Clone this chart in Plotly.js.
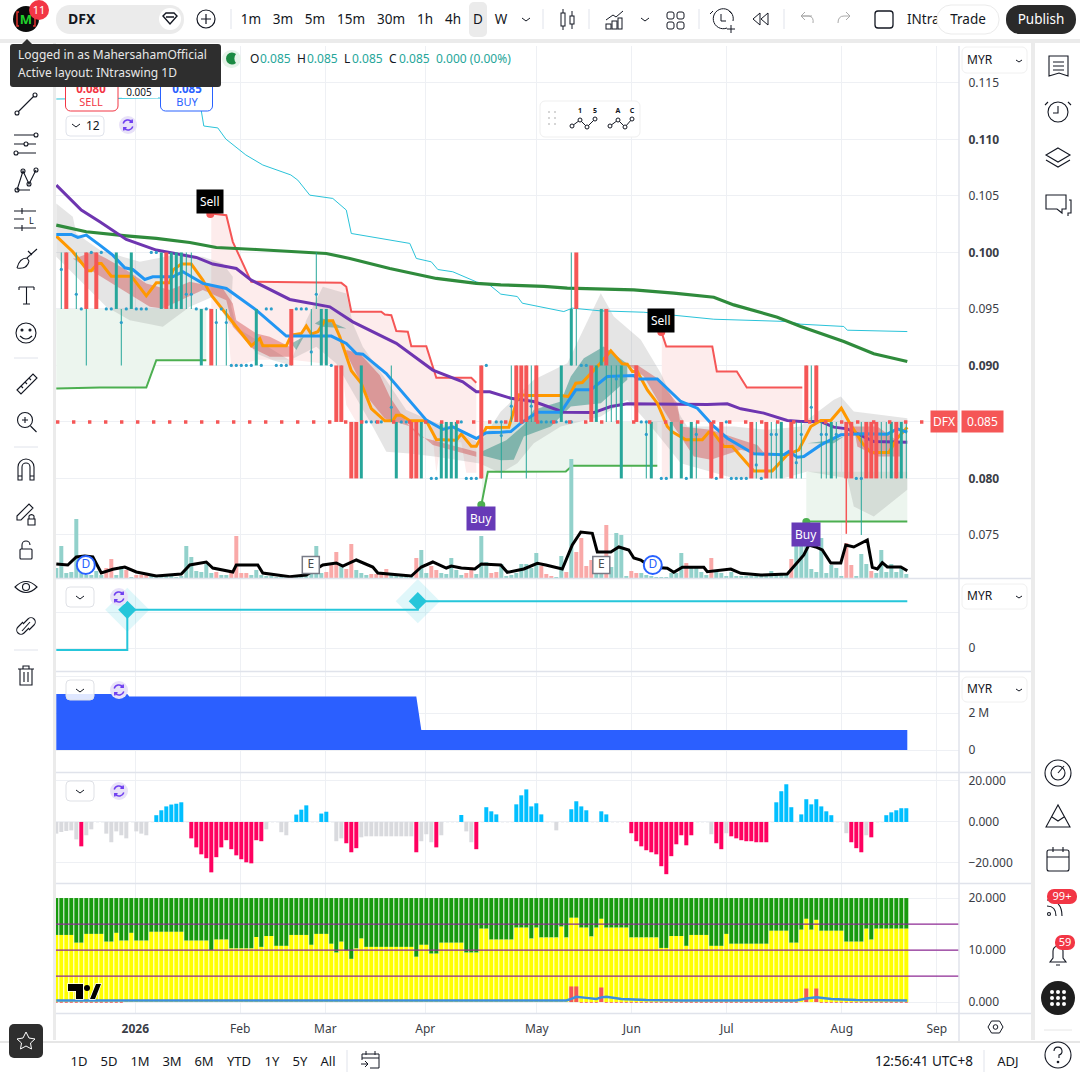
<!DOCTYPE html>
<html><head><meta charset="utf-8">
<script src="https://cdn.plot.ly/plotly-3.0.1.min.js"></script>
<style>html,body{margin:0;padding:0;background:#fff;width:1080px;height:1080px;overflow:hidden}
#c{position:absolute;left:0;top:0;width:1080px;height:1080px}
#ui{position:absolute;left:0;top:0;pointer-events:none;font-family:"Noto Sans",sans-serif}
#ui text{font-family:"Noto Sans",sans-serif}</style></head><body>
<div id="c"></div>
<svg id="ui" width="1080" height="1080" viewBox="0 0 1080 1080">
<defs><g id="rf"><circle r="9" fill="#e8e2f8"/><path d="M-4.800-1.500a5 5 0 0 1 8.600-1.800M4.800 1.500a5 5 0 0 1-8.600 1.800M4.200-5.500v2.800h-2.800M-4.200 5.500v-2.800h2.800" fill="none" stroke="#6f3ff0" stroke-width="1.500"/></g></defs>
<!-- frame -->
<rect x="0" y="0" width="1080" height="39" fill="#fff"/>
<rect x="0" y="39" width="1080" height="4" fill="#ebebeb"/>
<rect x="0" y="43" width="53" height="997" fill="#fff"/>
<rect x="53" y="43" width="3" height="997" fill="#ebebeb"/>
<rect x="1031" y="43" width="4" height="997" fill="#ebebeb"/>
<rect x="1035" y="43" width="45" height="997" fill="#fff"/>
<rect x="0" y="1041" width="1080" height="2" fill="#e6e6e6"/>
<rect x="0" y="1043" width="1080" height="37" fill="#fff"/>
<!-- top toolbar -->
<circle cx="26" cy="19" r="13" fill="#0b0b0b"/><text x="26" y="24" font-size="13" font-weight="700" fill="#21d12b" text-anchor="middle">M</text>
<path d="M19 12h-2v14h2M33 12h2v14h-2" stroke="#e3342f" stroke-width="1.500" fill="none"/>
<circle cx="39" cy="10" r="10" fill="#f23645"/><text x="39" y="14" font-size="11" fill="#fff" text-anchor="middle">11</text>
<rect x="56" y="5" width="128" height="29" rx="14" fill="#ebebeb"/>
<text x="68" y="24" font-size="14" font-weight="700" fill="#131722">DFX</text>
<circle cx="170" cy="19" r="11" fill="#fff"/><path d="M163 16l3-3h8l3 3-7 8zM166 17h8" stroke="#131722" stroke-width="1.400" fill="none"/>
<circle cx="206" cy="19" r="9" stroke="#131722" stroke-width="1.200" fill="none"/><path d="M201 19h10M206 14v10" stroke="#131722" stroke-width="1.200"/>
<path d="M231 9v20M543 9v20M589 9v20M699 9v20M784 9v20" stroke="#e0e3eb"/>
<rect x="469" y="2" width="18" height="35" rx="5" fill="#ebebeb"/>
<g font-size="13.500" fill="#131722" text-anchor="middle"><text x="251" y="24">1m</text><text x="283" y="24">3m</text><text x="315" y="24">5m</text><text x="351" y="24">15m</text><text x="391" y="24">30m</text><text x="425" y="24">1h</text><text x="453" y="24">4h</text><text x="478" y="24">D</text><text x="501" y="24">W</text></g>
<path d="M522 18l4 3 4-3M641 18l4 3 4-3" stroke="#131722" fill="none"/>
<g stroke="#131722" fill="none"><rect x="561" y="13" width="4" height="13"/><path d="M563 9v4M563 26v4"/><rect x="570" y="16" width="4" height="8"/><path d="M572 11v5M572 24v5"/></g>
<g stroke="#131722" fill="none"><path d="M606 20l7-5 3 2 7-6"/><rect x="606" y="24" width="5" height="5"/><rect x="612" y="21" width="5" height="8"/><rect x="618" y="18" width="4" height="11"/></g>
<g stroke="#131722" fill="none"><rect x="667" y="12" width="7" height="7" rx="2"/><rect x="677" y="12" width="7" height="7" rx="2"/><rect x="667" y="22" width="7" height="7" rx="2"/><rect x="677" y="22" width="7" height="7" rx="2"/></g>
<g stroke="#131722" fill="none"><path d="M727 28a10 10 0 1 1 6-7M721 14v7h5M713 11l-3 3M729 11l3 3M727 29h8M731 25v8"/></g>
<path d="M753 19l7-6v12zM761 19l7-6v12z" stroke="#131722" fill="none"/>
<path d="M812 16h-11l4-4M801 16l4 4M801 16h8q5 1 4 7M838 23q0-7 6-7h6l-4-4M850 16l-4 4" stroke="#aaa" fill="none"/>
<rect x="875" y="11" width="18" height="17" rx="3" stroke="#131722" stroke-width="1.300" fill="#fff"/>
<text x="907" y="24" font-size="13.500" fill="#131722">INtra</text>
<rect x="937" y="5" width="62" height="29" rx="14" fill="#fff" stroke="#ebebeb"/><text x="968" y="24" font-size="13.500" fill="#131722" text-anchor="middle">Trade</text>
<rect x="1006" y="5" width="70" height="29" rx="14" fill="#2a2a2a"/><text x="1041" y="24" font-size="13.500" fill="#fff" text-anchor="middle">Publish</text>
<!-- legend -->
<rect x="222" y="50" width="19" height="18" rx="9" fill="#e6f3e9"/><path d="M236 54a6 6 0 1 0 0 9 7 7 0 0 1 0-9z" fill="#1b8a42"/>
<g font-size="12"><text x="250" y="63" fill="#131722">O</text><text x="260" y="63" fill="#26a69a">0.085</text><text x="297" y="63" fill="#131722">H</text><text x="307" y="63" fill="#26a69a">0.085</text><text x="344" y="63" fill="#131722">L</text><text x="352" y="63" fill="#26a69a">0.085</text><text x="389" y="63" fill="#131722">C</text><text x="399" y="63" fill="#26a69a">0.085</text><text x="436" y="63" fill="#26a69a">0.000 (0.00%)</text></g>
<!-- sell/buy -->
<rect x="65.500" y="78" width="52.500" height="33" rx="5" fill="#fff" stroke="#f23645"/><text x="91" y="93" font-size="11.500" font-weight="700" fill="#f23645" text-anchor="middle">0.080</text><text x="91" y="106" font-size="11" fill="#f23645" text-anchor="middle">SELL</text>
<rect x="122" y="87" width="36" height="11" fill="#fff"/><text x="139" y="96" font-size="10" fill="#131722" text-anchor="middle">0.005</text>
<rect x="160.500" y="78" width="52" height="33" rx="5" fill="#fff" stroke="#2962ff"/><text x="187" y="93" font-size="11.500" font-weight="700" fill="#2962ff" text-anchor="middle">0.085</text><text x="187" y="106" font-size="11" fill="#2962ff" text-anchor="middle">BUY</text>
<rect x="66" y="116" width="38" height="20" rx="4" fill="#fff" stroke="#e0e3eb"/><path d="M72 124l4 3 4-3" stroke="#131722" fill="none"/><text x="86" y="130" font-size="12" fill="#131722">12</text>
<!-- tooltip -->
<path d="M22 44l5-5 5 5z" fill="#2e2e2e"/>
<rect x="10" y="44" width="211" height="43" rx="3" fill="#2e2e2e"/>
<text x="18" y="59" font-size="12" fill="#e8e8e8">Logged in as MahersahamOfficial</text><text x="18" y="77" font-size="12" fill="#e8e8e8">Active layout: INtraswing 1D</text>
<!-- wave panel -->
<rect x="540" y="101" width="100" height="36" rx="5" fill="#fff" stroke="#efefef"/>
<g fill="#c8c8c8"><circle cx="549" cy="112" r="1"/><circle cx="555" cy="112" r="1"/><circle cx="549" cy="118" r="1"/><circle cx="555" cy="118" r="1"/><circle cx="549" cy="124" r="1"/><circle cx="555" cy="124" r="1"/></g>
<g font-size="7" font-weight="700" fill="#131722" text-anchor="middle"><text x="580" y="113">1</text><text x="595" y="113">5</text><text x="618" y="113">A</text><text x="632" y="113">C</text></g>
<path d="M572 126l8-6 7 7 8-8M610 126l8-6 7 7 7-8" stroke="#131722" fill="none"/>
<g fill="#fff" stroke="#131722"><circle cx="572" cy="126" r="2"/><circle cx="580" cy="120" r="2"/><circle cx="587" cy="127" r="2"/><circle cx="595" cy="119" r="2"/><circle cx="610" cy="126" r="2"/><circle cx="618" cy="120" r="2"/><circle cx="625" cy="127" r="2"/><circle cx="632" cy="119" r="2"/></g>
<!-- refresh icons -->
<use href="#rf" x="128" y="125"/><use href="#rf" x="119" y="597"/><use href="#rf" x="119" y="690"/><use href="#rf" x="119" y="791"/>
<!-- collapse buttons -->
<g fill="#fff" stroke="#dfe1e6"><rect x="66" y="587" width="28" height="20" rx="4"/><rect x="66" y="680" width="28" height="20" rx="4" fill-opacity=".85"/><rect x="66" y="781" width="28" height="20" rx="4"/></g>
<path d="M76 596l4 3 4-3M76 689l4 3 4-3M76 790l4 3 4-3" stroke="#131722" fill="none"/>
<!-- MYR selectors -->
<g fill="#fff" stroke="#f0f0f0"><rect x="962" y="47" width="65" height="26" rx="5"/><rect x="962" y="584" width="65" height="25" rx="5"/><rect x="962" y="677" width="65" height="25" rx="5"/></g>
<g font-size="12" fill="#131722"><text x="967" y="64">MYR</text><text x="967" y="600">MYR</text><text x="967" y="693">MYR</text></g>
<path d="M1016 60l3 2 3-2M1016 596l3 2 3-2M1016 689l3 2 3-2" stroke="#131722" fill="none"/>
<!-- TV logo -->
<g><path d="M68 984h15v15h-7v-8h-8zM90 999l6-15h5l-6 15z" fill="#000" stroke="#fff" stroke-width="1.500" paint-order="stroke"/><circle cx="87" cy="988" r="3" fill="#000"/></g>
<!-- left toolbar -->
<g fill="none" stroke="#131722" stroke-width="1.100">
<path d="M18 112l16-16"/><circle cx="17" cy="113" r="2"/><circle cx="35" cy="95" r="2"/>
<path d="M14 135h22M14 144h22M14 153h22"/><circle cx="36" cy="135" r="2" fill="#fff"/><circle cx="26" cy="144" r="2" fill="#fff"/><circle cx="16" cy="153" r="2" fill="#fff"/>
<path d="M17 190l6-19 6 13 7-14M17 190h13"/><circle cx="17" cy="190" r="2"/><circle cx="23" cy="171" r="2"/><circle cx="29" cy="184" r="2"/><circle cx="36" cy="170" r="2"/>
<path d="M14 211h22M14 219h10M14 228h22M22 208v6M22 225v6"/><text x="29" y="224" font-size="9" stroke="none" fill="#131722">L</text>
<path d="M17 268c2-8 6-10 10-10l10-9M17 268c6 1 11-1 12-7l-2-3M28 251l4 4"/>
<path d="M19 287h15M26.500 287v17M23 304h7M19 287v3M34 287v3"/>
<circle cx="26" cy="333" r="10"/><circle cx="22" cy="330" r="1" fill="#131722"/><circle cx="30" cy="330" r="1" fill="#131722"/><path d="M20 336q6 6 12 0"/>
<path d="M17 390l16-16 4 4-16 16zM21 386l2 2M25 382l2 2M29 378l2 2"/>
<circle cx="25" cy="420" r="7.500"/><path d="M30.500 426l6 6M22 420h6M25 417v6"/>
<path d="M18 473v-6a8 8 0 0 1 16 0v6v7h-4v-7v-6a4 4 0 0 0-8 0v6v7h-4zM18 476h4M30 476h4"/>
<path d="M17 516l12-12 4 4-12 12h-4zM28 519h7v6h-7zM29 519v-3a3 3 0 0 1 5 0v3"/>
<rect x="20" y="549" width="12" height="10" rx="1"/><path d="M22 549v-4a4 4 0 0 1 8 0"/>
<path d="M15 587q11-11 22 0q-11 11-22 0z"/><circle cx="26" cy="587" r="3.500"/>
<path d="M23 622l-5 5a4 4 0 0 0 6 6l5-5M29 630l5-5a4 4 0 0 0-6-6l-5 5M22 631l8-9"/>
<path d="M18 669h16M23 669v-3h6v3M20 669v16h12v-16M24 672v10M28 672v10"/>
</g>
<path d="M14 358h24M14 447h24M14 650h24" stroke="#e0e3eb"/>
<rect x="9" y="1024" width="34" height="34" rx="5" fill="#2e2e2e"/><path d="M26 1032l3 6 6 1-4.500 4 1 6-5.500-3-5.500 3 1-6-4.500-4 6-1z" fill="none" stroke="#fff"/>
<!-- right toolbar -->
<g fill="none" stroke="#131722" stroke-width="1.100">
<path d="M1049 56h19v20l-9-3-10 3zM1053 62h11M1053 66h11M1053 70h11"/>
<circle cx="1058" cy="112" r="10"/><path d="M1058 106v7h-5M1048 102l-3 3M1068 102l3 3"/>
<path d="M1058 148l12 7-12 7-12-7zM1046 160l12 7 12-7"/>
<path d="M1046 195h20v14h-4v4l-5-4h-11zM1069 200h2v13h-3v3"/>
<circle cx="1058" cy="773" r="13"/><circle cx="1058" cy="773" r="7"/><path d="M1058 773l6-7"/>
<path d="M1046 827l12-22 12 22zM1052 817l6 4 6-4"/>
<rect x="1047" y="850" width="22" height="21" rx="2"/><path d="M1047 857h22M1053 847v5M1063 847v5"/>
<path d="M1047 900q15 0 15 16M1047 906q9 0 9 10"/><circle cx="1049" cy="914" r="1.500"/>
<path d="M1050 962h16l-3-4v-7a5 5 0 0 0-10 0v7zM1056 965h4"/>
<circle cx="1058" cy="1055" r="13"/><path d="M1054 1051a4 4 0 1 1 5 4v3"/><circle cx="1058" cy="1062" r=".8" fill="#131722"/>
</g>
<path d="M1044 1030h28" stroke="#e6e6e6"/>
<rect x="1047" y="889" width="30" height="15" rx="7" fill="#f23645"/><text x="1062" y="900" font-size="11" fill="#fff" text-anchor="middle">99+</text>
<rect x="1055" y="935" width="20" height="15" rx="7" fill="#f23645"/><text x="1065" y="946" font-size="11" fill="#fff" text-anchor="middle">59</text>
<circle cx="1058" cy="998" r="17" fill="#1e1e1e"/><g fill="#fff"><circle cx="1052" cy="992" r="2"/><circle cx="1058" cy="992" r="2"/><circle cx="1064" cy="992" r="2"/><circle cx="1052" cy="998" r="2"/><circle cx="1058" cy="998" r="2"/><circle cx="1064" cy="998" r="2"/><circle cx="1052" cy="1004" r="2"/><circle cx="1058" cy="1004" r="2"/><circle cx="1064" cy="1004" r="2"/></g>
<!-- x axis settings -->
<path d="M988 1027l3.500-6h8l3.500 6-3.500 6h-8z" fill="none" stroke="#131722"/><circle cx="995.500" cy="1027" r="2.300" fill="none" stroke="#131722"/>
<!-- bottom -->
<g font-size="13" fill="#131722" text-anchor="middle"><text x="79" y="1066">1D</text><text x="109" y="1066">5D</text><text x="140" y="1066">1M</text><text x="172" y="1066">3M</text><text x="204" y="1066">6M</text><text x="239" y="1066">YTD</text><text x="272" y="1066">1Y</text><text x="300" y="1066">5Y</text><text x="328" y="1066">All</text><text x="924" y="1066" font-size="13.500">12:56:41 UTC+8</text><text x="1008" y="1066">ADJ</text></g>
<path d="M347 1050v22M984 1050v22" stroke="#e0e3eb"/>
<g fill="none" stroke="#131722"><path d="M362 1060v-6h17v14h-9M362 1058h17M366 1051v4M375 1051v4M361 1064h7M365 1061l3 3-3 3"/></g>
</svg>
<script>
const kBars=[0,1,2,3,4,5,6,7,8,9,10,11,12,13,14,15,16,17,18,19,20,21,22,23,24,25,26,27,28,29,30,31,32,33,34,35,36,37,38,39,40,41,42,43,44,45,46,47,48,49,50,51,52,53,54,55,56,57,58,59,60,61,62,63,64,65,66,67,68,69,70,71,72,73,74,75,76,77,78,79,80,81,82,83,84,85,86,87,88,89,90,91,92,93,94,95,96,97,98,99,100,101,102,103,104,105,106,107,108,109,110,111,112,113,114,115,116,117,118,119,120,121,122,123,124,125,126,127,128,129,130,131,132,133,134,135,136,137,138,139,140,141,142,143,144,145,146,147,148,149,150,151,152,153,154,155,156,157,158,159,160,161,162,163,164,165,166,167,168,169,170];
const xTickVals=[15.8,36.8,53.8,73.8,96.1,115.1,134.1,157.1,176.1];
const xTickText=['<b>2026</b>','Feb','Mar','Apr','May','Jun','Jul','Aug','Sep'];
const volume=[10,32,5,6,59,6,3,3,7,3,10,19,3,12,8,1,3,3,4,2,1,1,2,2,1,2,32,21,7,6,14,5,6,3,3,6,42,5,5,3,8,3,2,2,1,1,1,1,2,2,6,10,32,5,6,13,26,14,9,34,8,5,3,4,4,5,9,3,2,2,2,3,20,28,5,12,8,5,4,20,8,3,5,11,4,42,16,5,6,14,2,3,5,14,14,10,25,12,4,2,1,22,6,119,26,40,12,18,21,6,53,11,45,43,2,7,5,5,3,2,1,1,1,5,5,25,15,10,10,6,3,20,6,5,2,6,2,2,2,2,2,2,2,7,5,4,5,19,36,33,40,9,6,40,5,13,10,2,35,13,2,24,14,7,5,28,6,14,6,11,4];
const volumeRedBars=[10,11,14,16,17,18,32,35,36,37,38,54,55,56,58,59,63,64,65,66,72,75,76,82,83,87,88,97,98,99,102,104,105,106,107,110,115,116,126,131,147,158,159,163];
const volMaK=[0,2.3,4,5.7,7.3,9,11.3,13.7,16,20,25,26.7,30,31.3,35.3,36,40.3,41.3,46.7,50,53.3,56,57.3,60,63.3,64.3,71,73,75.3,78,79,81,83.7,85,88.9,90.2,93.5,96.2,97.9,101.2,103.2,104.9,107.2,108.2,110.9,112.5,114.5,115.5,116.9,118.9,122.2,123.5,125.2,129.5,130.2,134.9,136.9,140.9,146.2,149.5,150.5,151.9,153.2,154.9,156.9,157.9,159.5,162.2,163.2,164.2,165.2,166.2,168.9,170.2];
const volMaV=[14,13,21,22,21,5,8.7,11,6,2,4,13,16,10,6,13,13,5,1.3,3,13,15,12,18,11,5,2,11,16,10,12,10,9,14,13,5.7,9,14.7,13,9,33,46,44.7,26,26,31,28,20,18,11,9.7,5.7,10.7,10.7,6.3,9,4.7,3,4,23,33,31,28,15,15,33,31,38,10.7,9,15.3,11,11,7.3];
// thick candle bodies
const tealK=[12,15,21,23,24,25,29,40,53,54,61,68,73,77,78,79,80,101,103,108,109,113,119,123,125,127,145,155,167,169];
const tealLo=[.095,.095,.095,.095,.095,.095,.09,.09,.09,.09,.08,.08,.08,.08,.08,.08,.08,.085,.09,.085,.09,.08,.08,.08,.08,.08,.08,.08,.08,.08];
const tealHi=[.1,.1,.1,.1,.1,.1,.095,.095,.095,.095,.09,.085,.085,.085,.085,.085,.085,.09,.095,.09,.095,.09,.085,.085,.085,.085,.085,.085,.085,.085];
const redK=[2,6,8,22,31,47,56,57,59,60,71,72,85,92,93,94,96,104,107,110,116,131,133,139,142,147,150,152,158,159,162,163,164,168];
const redLo=[.095,.095,.095,.095,.09,.09,.085,.085,.08,.08,.08,.08,.08,.085,.085,.085,.085,.095,.085,.09,.085,.08,.08,.08,.08,.08,.085,.085,.08,.08,.08,.08,.08,.08];
const redHi=[.1,.1,.1,.1,.095,.095,.09,.09,.085,.085,.085,.085,.09,.09,.09,.09,.09,.1,.09,.095,.09,.085,.085,.085,.085,.085,.09,.09,.085,.085,.085,.085,.085,.085];
// thin wicks
const wickK=[1,2,4,6,8,13,26,27,32,34,47,51,52,57,67,71,85,89,91,92,94,95,96,103,104,110,111,112,118,128,131,140,143,144,148,149,150,151,152,153,154,156,161,165,166,168,170];
const wickLo=[.095,.095,.095,.09,.095,.09,.095,.095,.09,.09,.09,.09,.095,.085,.085,.08,.08,.08,.085,.085,.08,.085,.085,.09,.09,.085,.085,.085,.08,.08,.08,.08,.08,.08,.08,.08,.085,.085,.085,.08,.08,.08,.075,.08,.08,.08,.08];
const wickHi=[.1,.1,.1,.1,.1,.095,.1,.1,.095,.095,.095,.095,.1,.09,.09,.085,.09,.085,.09,.09,.09,.09,.09,.1,.095,.09,.09,.09,.085,.085,.085,.085,.085,.085,.085,.085,.09,.09,.09,.085,.085,.085,.085,.085,.085,.085,.085];
const redWickK=[158];const redWickLo=[.0751];const redWickHi=[.085];
const dotK=[1,4,13,26,27,32,34,52,51,67,89,91,95,112,118,128,140,143,144,148,149,151,153,154,156,7,9,19,20,5,10,11,14,16,17,18,28,30,33,42,43,48,49,50,35,36,37,38,39,41,44,45,46,55,62,63,64,65,69,70,74,81,86,88,89,75,76,82,83,84,105,106,97,98,99,100,102,103,117,118,134,121,122,126,132,135,136,137,138,141,160,161];
const dotP=[.0985,.0963,.0938,.0963,.0963,.0938,.0938,.0963,.0912,.0863,.0838,.0864,.0864,.0888,.0839,.0839,.0812,.0839,.0839,.0814,.0839,.0863,.0839,.0839,.0839,.1,.1,.1,.1,.095,.095,.095,.095,.095,.095,.095,.095,.095,.095,.095,.095,.095,.095,.095,.09,.09,.09,.09,.09,.09,.09,.09,.09,.09,.085,.085,.085,.085,.085,.085,.085,.085,.09,.085,.085,.08,.08,.08,.08,.08,.09,.09,.085,.085,.085,.085,.085,.085,.085,.085,.085,.08,.08,.08,.08,.08,.08,.08,.08,.08,.08,.08];
// lines
const ma200K=[0,6,14,20,26.7,32,40,54,58.7,66.7,76,84,88.9,97.5,102.2,115.5,123.5,131.5,135.5,144.2,148.9,157.5,163.5,170.2];
const ma200P=[.10242,.10183,.10147,.10124,.10088,.10044,.10026,.09991,.09947,.09858,.0977,.09726,.09713,.09699,.09684,.09669,.0964,.09604,.09536,.09427,.09345,.09212,.09103,.09035];
const cyanK=[0,20,28.5,28.9,29.5,32.3,33.9,37.9,41.3,46.9,48.3,50.7,55.3,58,59,67.3,70.7,72,75,76.3,79.3,84,86.7,88.9,92.2,93.2,97.5,101.5,103.2,108.9,117.5,126.9,131.5,146.2,148.9,157.5,158.2,170.2];
const cyanP=[.11358,.11367,.11358,.11279,.11119,.11102,.11004,.10863,.10774,.10686,.1064,.10507,.10478,.10375,.10168,.10109,.1008,.09947,.09917,.09849,.09829,.0974,.09711,.09631,.0961,.09551,.09516,.09477,.09507,.09483,.09471,.09427,.09409,.09389,.09365,.09345,.09312,.093];
const purpleK=[0,5,8.7,14,20,28,31.3,36,39,46.7,54.7,59.3,68,75.3,81.3,84,86.7,90.9,95.5,101.5,107.5,110.9,114.2,130.2,134.2,136.9,141.5,146.2,148.9,152.9,155.5,158.2,163.5,170.2];
const purpleP=[.10596,.10375,.10271,.10115,.10021,.09956,.09897,.09858,.09755,.09584,.09519,.09386,.09195,.08959,.08855,.08767,.08767,.0871,.08681,.08586,.08583,.08637,.0866,.08654,.0866,.08616,.08578,.08513,.08504,.08504,.08454,.08439,.08327,.08321];
const blueK=[0,3,4.3,6,8.7,11.3,13.7,15.3,17.7,19.3,23.3,25.3,29.3,34,40,42.7,46,55,58,60,61.3,66,70,74,77.3,79.3,84,86,88.9,90.9,92.9,96.2,100.9,103.9,106.9,110.2,115.5,116.2,120.2,124.9,128.2,131.5,134.2,139.5,145.5,146.5,148.2,149.5,152.9,156.9,161.5,166.2,168.2,170.2];
const blueP=[.10159,.10159,.10133,.10153,.10065,.09976,.09864,.09849,.09761,.09785,.09785,.09829,.09726,.09681,.0949,.09386,.0926,.0926,.09195,.09106,.091,.08929,.08723,.08516,.08434,.08457,.08354,.08404,.08409,.08415,.08489,.08586,.08586,.08784,.08784,.08902,.08911,.08881,.08881,.08681,.08622,.0846,.08356,.08218,.08209,.08238,.08188,.08194,.08297,.08386,.08395,.08392,.08439,.08409];
const orangeK=[0,3.3,6.3,7,8.3,9,11,15,18,20,22.7,23.3,25,27,29.3,31,39,40.7,41.3,46,47,49,50,51,52.3,53.7,55.3,56.7,59,61,63,65.7,67.3,68,69,70.7,74,76,80,81,83,84,86,90.5,92.5,94.5,100.9,102.5,103.9,105.2,108.5,110.9,113.2,114.2,115.2,116.2,118.2,120.2,122.2,123.2,125.9,129.2,130.5,131.5,133.5,135.2,139.5,143.2,146.2,148.5,150.9,152.9,154.9,157,158.5,161.2,162.9,166.5,168.2,170.2];
const orangeP=[.10144,.10006,.09838,.09838,.09903,.09903,.0979,.0979,.09616,.09731,.09731,.09844,.09897,.09897,.09755,.09622,.09174,.09239,.09174,.09174,.09268,.09283,.09348,.09277,.09298,.09395,.09395,.09254,.08953,.08841,.08619,.0851,.0851,.0856,.0856,.0851,.0851,.08345,.08339,.08392,.08286,.08286,.08451,.08454,.0874,.08734,.08734,.08725,.08843,.08849,.09005,.09129,.09014,.09011,.08946,.08946,.08784,.08666,.0846,.08412,.08342,.08342,.08409,.084,.08283,.08283,.08067,.08067,.08209,.08253,.0846,.08513,.08513,.08622,.08504,.08312,.08229,.08229,.08356,.08454];
// supertrend
const stRed1K=[31,34,35.3,39,57,58,59,65,65.7,67,68,70.3,71,74,76,83,84];
const stRed1P=[.10345,.1033,.10094,.0974,.09731,.09696,.09475,.09475,.09451,.09445,.09304,.09298,.09171,.09171,.08891,.08891,.08847];
const stRed1LoK=[84,82,81,77,76,75,70,60,58,57,47,40,35,34,31];
const stRed1LoP=[.0805,.0805,.0832,.0832,.0805,.085,.085,.085,.0865,.09,.0905,.0905,.0898,.095,.095];
const stRed2K=[121.1,122,131.2,132.1,136.1,138.1,149.2];
const stRed2P=[.09286,.09168,.09168,.08946,.08946,.08805,.08805];
const stRed2LoK=[149.2,123,122.5,121.1];
const stRed2LoP=[.085,.085,.08,.08];
const stGreen1K=[0,8.7,18,20,30];const stGreen1P=[.08796,.08805,.08805,.09047,.09047];
const stGreen1TopK=[30,0];const stGreen1TopP=[.095,.095];
const stGreen2K=[85,86.3,101.9,103.2,120.2];const stGreen2P=[.07764,.08059,.08061,.08112,.08112];
const stGreen2TopK=[120.2,85.5];const stGreen2TopP=[.085,.085];
const stGreen3K=[150,170.2];const stGreen3P=[.07619,.07619];
const stGreen3TopK=[170.2,150];const stGreen3TopP=[.0806,.0806];
// clouds
const cloudK=[0,3.3,4,8.7,16.7,23.3,29.3,33.3,35.3,35,36,40,43.3,46.7,50,53.3,58,59.3,61.3,66,70,74.7,80,84.7,88.9,95.5,102.2,108.9,111.5,116.9,120.9,124.9,126.2,135.5,142.2,148.9,150.2,155.5,156.9,159.5,170.2,170.2,163.5,159.5,158.2,150.2,145.5,135.5,124.9,119.5,114.2,108.9,100.9,95.5,92.2,88.9,84.7,76,70.7,66,63.3,58.7,56,52,46.7,34.7,31.3,26.7,21.3,14.7,10,4,0];
const cloudP=[.10434,.10316,.10168,.10021,.09917,.09976,.09962,.09903,.09785,.09519,.09342,.09106,.09047,.09003,.09401,.09696,.09637,.09372,.09165,.0887,.08605,.08516,.08428,.0831,.08592,.08873,.0902,.0964,.09433,.09227,.08932,.08548,.0846,.0846,.0843,.0846,.08519,.08696,.08725,.08592,.08533,.07899,.07663,.07752,.08002,.08061,.08002,.08002,.08135,.0843,.08696,.08548,.0846,.08312,.08135,.08047,.08133,.08192,.08221,.08236,.08457,.08811,.09018,.09165,.09047,.09372,.09608,.09519,.09342,.09401,.09519,.09785,.09962];
const teal1K=[85,90,93.5,95.5,100.9,102.9,105.5,109.5,114.2,114.2,108.9,102.9,98.9,93.5,91.5,88.9,85];
const teal1P=[.08236,.08339,.08474,.08607,.08681,.08902,.09064,.09168,.09014,.08873,.08666,.08637,.0846,.08371,.08165,.08162,.08206];
const teal2K=[47,49.5,48];const teal2P=[.09195,.09254,.09136];
const teal3K=[51.7,53.3,58,53.3];const teal3P=[.09372,.09416,.09327,.09342];
const teal4K=[144.2,146,145];const teal4P=[.08224,.0815,.0819];
const teal5K=[150.2,155.5,157.5,155.5];const teal5P=[.08312,.08342,.08371,.08312];
const red1K=[3.7,7.3,10,14,18,22.7,26.7,33.3,35.3,36,40,42.7,46.7,46.7,42.7,39.3,35.3,34,29.3,21.3,18.7,13.3,10,6.3,3.3];
const red1P=[.09947,.10006,.09947,.09844,.09726,.09667,.0974,.09681,.09549,.09401,.09283,.09254,.09165,.09077,.09077,.0915,.09342,.09578,.09667,.09504,.09519,.09667,.09755,.09858,.09947];
const red2K=[58,60.7,64.7,66.7,70.7,72.7,84,84,75.3,71,65.7,62.7,60,58];
const red2P=[.09136,.09106,.08914,.08723,.08457,.08369,.08236,.08192,.08295,.08457,.08531,.08693,.08929,.09106];
const red3K=[114.5,116.2,120.2,124.2,124.9,130.9,136.9,140.2,142.2,136.9,130.9,127.5,123.5,120.2,117.5];
const red3P=[.09005,.09005,.08887,.08666,.0846,.0843,.08342,.08297,.08194,.08253,.08165,.08194,.0846,.08696,.08902];
const red4K=[159.5,164.2,168.9,168.9,164.2,160.2];
const red4P=[.0846,.0846,.08312,.08194,.08194,.08283];
const lastPrice=.085;
// pane 2
const stepK=[0,14.2,14.2,72.3,72.3,170.2];const stepV=[-.05,-.05,.98,.98,1.2,1.2];
const diamondK=[14.2,72.3];const diamondV=[.98,1.2];
// pane 3
const areaK=[0,14.2,14.6,72,73,170.2];const areaV=[3.03,3.03,2.89,2.89,1.08,1.08];
// pane 4
const hist=[-5.7,-4.9,-4.4,-4.1,-8.5,-11.9,-6.5,-3.6,0,0,-5.7,-9.9,-4.6,-6.5,-8,0,-4.6,-5.7,-6.5,0,3.3,5.7,7.6,8.5,8.9,9.6,0,-8,-12.4,-15.8,-17.7,-24.6,-17.2,-12.4,-8.9,-13.3,-16.3,-18.2,-19.7,-20.2,-8.9,-9.4,-3.6,0,0,-5,-6.5,0,3.6,6,8.1,0,0,4.1,5,0,-9.4,-8,-10.4,-14.8,-12.8,-7.5,-7,-7,-7,-7,-7,-7,-7,-7,-7,-7,-14.8,-9.4,-6,-9.9,-12.4,-6.5,0,0,0,3.4,-4.6,-9.9,-13.3,0,7.2,5.2,3.7,0,0,0,8.6,13,15.9,7.6,9.1,3.7,0,0,-4.1,0,0,6.2,10.1,7.6,5.7,0,0,5.2,3.7,0,0,0,0,-5.5,-9.4,-11.9,-13.8,-14.8,-15.8,-21.6,-25.5,-16.7,-10.9,-6.5,-11.4,-6.5,0,0,0,-6,-10.4,-13.3,-5.5,-7,-8,-8.9,-9.4,-9.4,-9.9,-9.9,-9.9,0,9.6,15,18.4,7.2,0,3.7,11.1,8.6,11.1,7.6,5.2,3.3,0,0,-5.5,-9.9,-12.8,-14.8,-6.5,-7.5,0,0,3.3,4.7,5.7,6.7,6.7];
const histGray=[0,1,2,3,4,6,7,10,11,12,13,14,16,17,18,42,45,46,56,57,61,62,63,64,65,66,67,68,69,70,71,73,74,75,77,82,83,100,131,134,158,162];
// pane 5
const greenTop=[20,20,20,20,20,20,20,20,20,20,20,20,20,20,20,20,20,20,20,20,20,20,20,20,20,20,20,20,20,20,20,20,20,20,20,20,20,20,20,20,20,20,20,20,20,20,20,20,20,20,20,20,20,20,20,20,20,20,20,20,20,20,20,20,20,20,20,20,20,20,20,20,20,20,20,20,20,20,20,20,20,20,20,20,20,20,20,20,20,20,20,20,20,20,20,20,20,20,20,20,20,20,20,20,20,20,20,20,20,20,20,20,20,20,20,20,20,20,20,20,20,20,20,20,20,20,20,20,20,20,20,20,20,20,20,20,20,20,20,20,20,20,20,20,20,20,20,20,20,20,20,20,20,20,20,20,20,20,20,20,20,20,20,20,20,20,20,20,20,20,20];
const yellowTop=[12.9,12.9,12.9,12.9,11.4,11.4,13.1,13.1,13.1,13.1,11.6,11.6,13.3,11.8,11.8,13.3,11.8,11.8,11.8,13.5,13.5,13.5,13.5,13.5,13.5,13.5,11.8,11.8,11.8,11.8,11.8,10,12,12,12,10.3,10.3,10.3,10.3,10.3,12.5,10.6,12.7,12.7,10.8,10.8,10.8,12.9,12.9,12.9,12.9,11,13.1,13.1,13.1,11.2,9.5,11.6,9.9,8.3,10.3,12.2,10.6,10.6,10.6,10.6,10.6,10.6,10.6,10.6,10.6,10.6,8.7,11,11,9.3,9.3,11.4,11.4,11.4,11.4,11.4,9.5,9.5,9.5,14.1,14.1,12,12,12,12,12,14.3,14.3,14.3,12.2,14.3,12.4,12.4,12.4,12.4,14.5,12.4,16.2,16.2,14.3,14.3,12.6,14.3,16,14.3,14.3,14.3,14.3,14.3,12.4,12.4,12.4,12.4,12.4,12.4,10.4,10.4,12.7,12.7,12.7,10.8,12.9,12.9,12.9,12.9,10.8,10.8,10.8,13.1,11.2,11.2,11.2,11.2,11.2,11.2,11.2,11.2,13.7,13.7,13.7,13.7,11.4,11.4,13.9,16,13.9,15.8,13.7,13.7,13.7,13.7,13.7,11.6,11.6,11.6,11.6,14.1,12,14.1,14.1,14.1,14.1,14.1,14.1,14.1];
const spikeK=[103,104,109,150,152];const spikeV=[3,3,2.8,2.6,2.6];
const flowK=[0,102,103,104,106,108,109,110,113,118,125,148,149,150,152,155,160,170.2];
const flowV=[.3,.3,.6,1,.8,.6,.9,1,.6,.4,.3,.3,.5,.7,.9,.6,.4,.3];
const levelsLo=[5,10,15];
const tailK=[0,1,2,3,4,5,6,7,8,9,10,11,12,13,105,106,107,108,110,111,112,113,114,115,116,117,118,119,120,121,122,123,124,125,126,127,128,129,130,131,132,133,134,135,136,137,138,139,140,141,142,143,144,145,146,147,148,153,154,155,156,157,158,159,160,161,162,163,164,165,166,167,168,169,170];
const tailV=[-.15,-.15,-.15,-.15,-.15,-.15,-.15,-.15,-.15,-.15,-.15,-.15,-.15,-.15,-.15,-.15,-.15,-.15,-.15,-.15,-.15,-.15,-.15,-.15,-.15,-.15,-.15,-.15,-.15,-.15,-.15,-.15,-.15,-.15,-.15,-.15,-.15,-.15,-.15,-.15,-.15,-.15,-.15,-.15,-.15,-.15,-.15,-.15,-.15,-.15,-.15,-.15,-.15,-.15,-.15,-.15,-.15,-.15,-.15,-.15,-.15,-.15,-.15,-.15,-.15,-.15,-.15,-.15,-.15,-.15,-.15,-.15,-.15,-.15,-.15];

const W=1080,H=1080;
const dom=(t,b)=>[1-b/H,1-t/H];
const fillPoly=(x,y,c,ax='y')=>({x,y,type:'scatter',mode:'lines',fill:'toself',fillcolor:c,line:{width:0},hoverinfo:'skip',yaxis:ax,xaxis:'x',showlegend:false});
const line=(x,y,c,w,ax='y',extra={})=>({x,y,type:'scatter',mode:'lines',line:{color:c,width:w,shape:'linear',...extra},hoverinfo:'skip',yaxis:ax,xaxis:'x'});
const rev=(a,b)=>a.concat(b);
const pink='#fdecec',pale='#ecf5ee';
const traces=[
 fillPoly(rev(stRed1K,stRed1LoK),rev(stRed1P,stRed1LoP),pink),
 fillPoly(rev(stRed2K,stRed2LoK),rev(stRed2P,stRed2LoP),pink),
 fillPoly(rev(stGreen1K,stGreen1TopK),rev(stGreen1P,stGreen1TopP),pale),
 fillPoly(rev(stGreen2K,stGreen2TopK),rev(stGreen2P,stGreen2TopP),pale),
 fillPoly(rev(stGreen3K,stGreen3TopK),rev(stGreen3P,stGreen3TopP),pale),
 fillPoly(cloudK,cloudP,'rgba(125,125,125,0.2)'),
 fillPoly(teal1K,teal1P,'rgba(0,121,107,0.4)'),
 fillPoly(teal2K,teal2P,'rgba(0,121,107,0.4)'),
 fillPoly(teal3K,teal3P,'rgba(0,121,107,0.4)'),
 fillPoly(teal4K,teal4P,'rgba(0,121,107,0.4)'),
 fillPoly(teal5K,teal5P,'rgba(0,121,107,0.4)'),
 fillPoly(red1K,red1P,'rgba(205,60,60,0.4)'),
 fillPoly(red2K,red2P,'rgba(205,60,60,0.4)'),
 fillPoly(red3K,red3P,'rgba(205,60,60,0.4)'),
 fillPoly(red4K,red4P,'rgba(205,60,60,0.4)'),
 line(cyanK,cyanP,'#2ac3d9',1),
 line(stRed1K,stRed1P,'#f55656',2),
 line(stRed2K,stRed2P,'#f55656',2),
 line(stGreen1K,stGreen1P,'#4caf50',2),
 line(stGreen2K,stGreen2P,'#4caf50',2),
 line(stGreen3K,stGreen3P,'#4caf50',2),
 line(ma200K,ma200P,'#2f8b3c',3.2),
 line(purpleK,purpleP,'#6e35b0',3),
 line(orangeK,orangeP,'#ff9800',3),
 line(blueK,blueP,'#2196f3',3),
 // volume
 {x:kBars,y:volume,type:'bar',width:.8,yaxis:'y6',xaxis:'x',hoverinfo:'skip',marker:{color:kBars.map(k=>volumeRedBars.includes(k)?'#f9a9a8':'#92d1cb')}},
 line(volMaK,volMaV,'#000000',3,'y6'),
 // candles
 {x:wickK,base:wickLo,y:wickHi.map((h,i)=>h-wickLo[i]),type:'bar',width:.2,yaxis:'y7',xaxis:'x',hoverinfo:'skip',marker:{color:'#26a69a'}},
 {x:redWickK,base:redWickLo,y:redWickHi.map((h,i)=>h-redWickLo[i]),type:'bar',width:.3,yaxis:'y7',xaxis:'x',hoverinfo:'skip',marker:{color:'#f55656'}},
 {x:redK,base:redLo,y:redHi.map((h,i)=>h-redLo[i]),type:'bar',width:.8,yaxis:'y7',xaxis:'x',hoverinfo:'skip',marker:{color:'#f55656'}},
 {x:tealK,base:tealLo,y:tealHi.map((h,i)=>h-tealLo[i]),type:'bar',width:.6,yaxis:'y7',xaxis:'x',hoverinfo:'skip',marker:{color:'#26a69a'}},
 {x:dotK,y:dotP,type:'scatter',mode:'markers',yaxis:'y7',xaxis:'x',hoverinfo:'skip',marker:{color:'#2c9fca',size:3.2}},
 {x:[-.06,180.54],y:[lastPrice,lastPrice],type:'scatter',mode:'lines',yaxis:'y7',xaxis:'x',hoverinfo:'skip',line:{color:'#f55656',width:3.4,dash:'3.4px,12.6px'}},
 {x:[30.8,121],y:[.1034,.09297],type:'scatter',mode:'markers',yaxis:'y7',hoverinfo:'skip',marker:{color:'#f55656',size:8}},
 {x:[85,150],y:[.07765,.07615],type:'scatter',mode:'markers',yaxis:'y7',hoverinfo:'skip',marker:{color:'#4caf50',size:8}},
 {x:[30.8,121],y:[.1038,.09337],type:'scatter',mode:'markers',yaxis:'y7',hoverinfo:'skip',marker:{color:'#000',size:7,symbol:'triangle-down'}},
 {x:[85,150],y:[.07725,.07575],type:'scatter',mode:'markers',yaxis:'y7',hoverinfo:'skip',marker:{color:'#673ab7',size:7,symbol:'triangle-up'}},
 {x:[5.9,119.3],y:[13,13],text:['D','D'],type:'scatter',mode:'markers+text',textposition:'middle center',textfont:{color:'#2962ff',size:12,family:'Noto Sans'},yaxis:'y6',hoverinfo:'skip',marker:{color:'#fff',size:18,line:{color:'#2962ff',width:2}}},
 {x:[50.9,109],y:[13,13],text:['E','E'],type:'scatter',mode:'markers+text',textposition:'middle center',textfont:{color:'#4a4a4a',size:12,family:'Noto Sans'},yaxis:'y6',hoverinfo:'skip',marker:{color:'#fff',size:17,symbol:'square',line:{color:'#787b86',width:1.5}}},
 // pane 2
 {x:diamondK,y:diamondV,type:'scatter',mode:'markers',yaxis:'y2',hoverinfo:'skip',marker:{symbol:'diamond',size:34,color:'rgba(38,198,218,0.14)'}},
 line(stepK,stepV,'#26c6da',2,'y2'),
 {x:diamondK,y:diamondV,type:'scatter',mode:'markers',yaxis:'y2',hoverinfo:'skip',marker:{symbol:'diamond',size:14,color:'#26c6da'}},
 // pane 3
 {x:areaK,y:areaV,type:'scatter',mode:'lines',fill:'tozeroy',fillcolor:'#2b5fff',line:{width:0},yaxis:'y3',hoverinfo:'skip'},
 // pane 4
 {x:kBars,y:hist,type:'bar',width:.8,yaxis:'y4',hoverinfo:'skip',marker:{color:hist.map((v,i)=>v>0?'#00bfff':histGray.includes(i)?'#d9dade':'#ff0060')}},
 // pane 5
 {x:kBars,base:yellowTop,y:greenTop.map((g,i)=>g-yellowTop[i]),type:'bar',width:.8,yaxis:'y5',hoverinfo:'skip',marker:{color:'#169a0c'}},
 {x:kBars,y:yellowTop,type:'bar',width:.8,yaxis:'y5',hoverinfo:'skip',marker:{color:'#ffff00'}},
 {x:spikeK,y:spikeV,type:'bar',width:.8,yaxis:'y5',hoverinfo:'skip',marker:{color:'#f55656'}},
 {x:tailK,y:tailV,type:'bar',width:.6,yaxis:'y5',hoverinfo:'skip',marker:{color:'#f55656'}},
 line(flowK,flowV,'#3d8fe0',2.5,'y5'),
];
traces.forEach(t=>{t.showlegend=false});
const grid='#eef0f4';
const rAxis=(t,b,range,tv,tt,extra={})=>({domain:dom(t,b),range,side:'right',anchor:'x',tickvals:tv,ticktext:tt,showgrid:true,gridcolor:grid,gridwidth:1,zeroline:false,showline:false,ticks:'outside',ticklen:6,tickcolor:'rgba(0,0,0,0)',tickfont:{family:'Noto Sans',size:12,color:'#3a3d46'},fixedrange:true,...extra});
const mainRange=[.07119,.11827];
const hidden=(range)=>({domain:dom(46,578),range,overlaying:'y',side:'right',anchor:'x',visible:false,fixedrange:true});
const lbl=(k,p,text,bg)=>({x:k,y:p,yref:'y7',xref:'x',text,showarrow:false,bgcolor:bg,font:{color:'#fff',size:12,family:'Noto Sans'},borderpad:3});
const layout={width:W,height:H,margin:{l:56,r:121,t:0,b:0,pad:0},paper_bgcolor:'#fff',plot_bgcolor:'#fff',barmode:'overlay',showlegend:false,hovermode:false,
 xaxis:{domain:[0,1],range:[-.06,180.54],tickvals:xTickVals,ticktext:xTickText,anchor:'y5',showgrid:true,gridcolor:grid,zeroline:false,ticks:'outside',ticklen:4,tickcolor:'rgba(0,0,0,0)',tickfont:{family:'Noto Sans',size:12,color:'#3a3d46'},automargin:false,fixedrange:true},
 yaxis:rAxis(46,578,mainRange,[.075,.08,.085,.09,.095,.1,.105,.11,.115],['0.075','<b>0.080</b>','','<b>0.090</b>','0.095','<b>0.100</b>','0.105','<b>0.110</b>','0.115']),
 yaxis2:rAxis(579,671,[-.59,1.77],[0,.92],['0','']),
 yaxis3:rAxis(672,772,[-1.19,4.22],[0,2,4],['0','2 M','']),
 yaxis4:rAxis(773,883,[-29.8,23.9],[-20,0,20],['\u221220.000','0.000','20.000']),
 yaxis5:rAxis(884,1014,[-2.3,22.7],[0,10,20],['0.000','10.000','20.000']),
 yaxis6:hidden([0,532]),
 yaxis7:hidden(mainRange),
 shapes:[
  ...levelsLo.map(v=>({type:'line',xref:'paper',x0:0,x1:1,yref:'y5',y0:v,y1:v,line:{color:'#8e2a94',width:1.3},layer:'above'})),
  {type:'line',xref:'x',x0:-.06,x1:170,yref:'y4',y0:0,y1:0,line:{color:'#e3e4e8',width:1,dash:'3px,2px'},layer:'below'},
  ...[578.5,671.5,772.5,883.5,1013.5].map(y=>({type:'line',xref:'paper',x0:0,x1:1.08,yref:'paper',y0:1-y/H,y1:1-y/H,line:{color:'#e0e3eb',width:1.6}})),
  {type:'line',xref:'paper',x0:1,x1:1,yref:'paper',y0:1-1041/H,y1:1-46/H,line:{color:'#e0e3eb',width:1.5}}
 ],
 annotations:[
  lbl(30.8,.10447,'Sell','#000'),lbl(121,.09394,'Sell','#000'),lbl(85,.0765,'Buy','#673ab7'),lbl(150,.075,'Buy','#673ab7'),
  {xref:'paper',x:.9985,xanchor:'right',yref:'y7',y:.085,text:'DFX',showarrow:false,bgcolor:'#f55656',font:{color:'#fff',size:12,family:'Noto Sans'},borderpad:2},
  {xref:'paper',x:1.002,xanchor:'left',yref:'y7',y:.085,text:'&nbsp;0.085&nbsp;',showarrow:false,bgcolor:'#f55656',font:{color:'#fff',size:12,family:'Noto Sans'},borderpad:2}
 ]};
Plotly.newPlot('c',traces,layout,{displayModeBar:false,staticPlot:true});
</script>
</body></html>
